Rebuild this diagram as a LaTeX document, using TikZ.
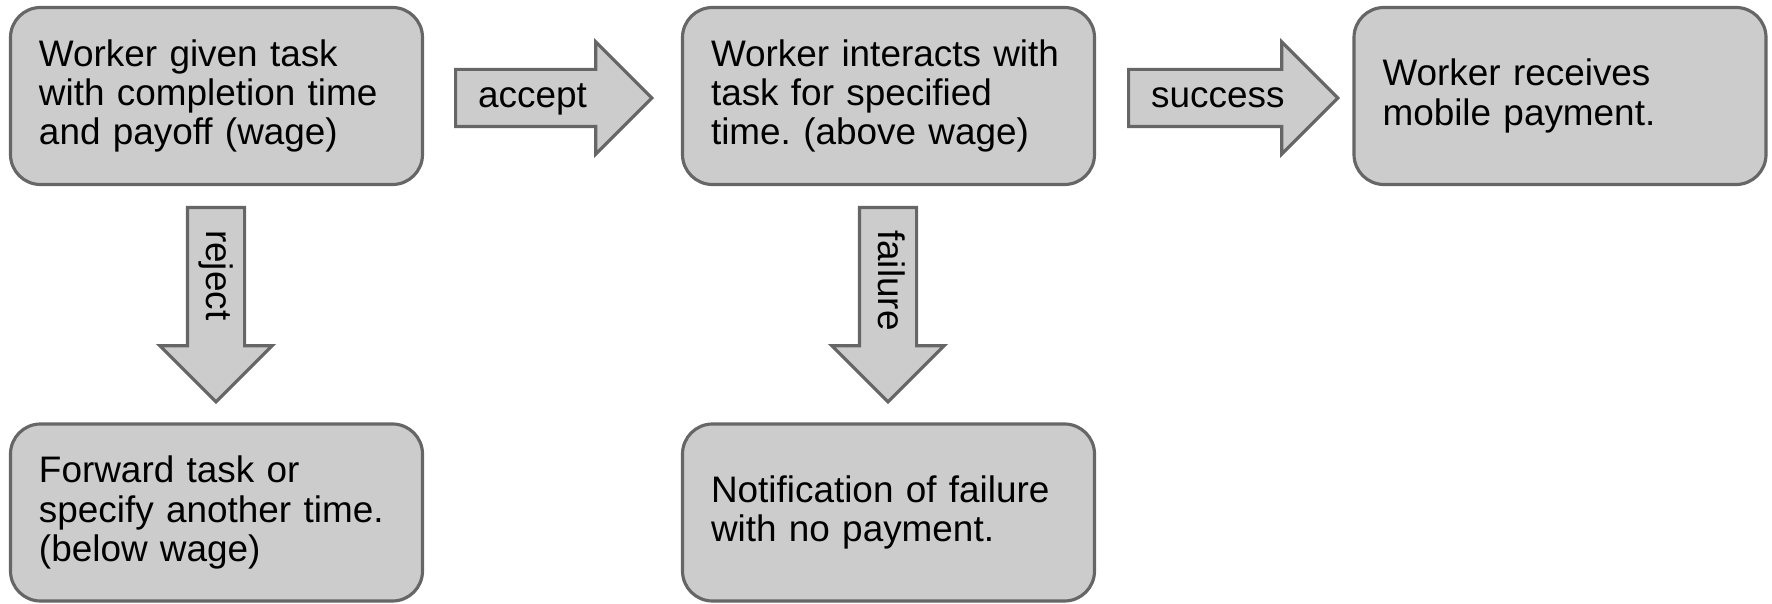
\documentclass[tikz,border=0pt]{standalone}
\usepackage{fontspec}
\setmainfont{Liberation Sans}
\frenchspacing
\usetikzlibrary{shapes.arrows,positioning}

\begin{document}
\begin{tikzpicture}[every node/.style={font=\fontsize{10.5}{11.2}\selectfont},
   bx/.style={rectangle,rounded corners=3mm,draw=black!60,fill=black!20,line width=0.9pt,
              minimum width=4.12cm,minimum height=1.77cm,text width=3.55cm,align=left,inner sep=0pt},
   ar/.style={single arrow,draw=black!60,fill=black!20,line width=0.9pt,
              single arrow head extend=2.75mm,single arrow head indent=0pt,
              text height=2.7mm,text depth=0.8mm,inner ysep=0.95mm,inner xsep=2.1mm,
              text width=#1,align=left,anchor=tail}]
  \useasboundingbox (0,0) rectangle (17.72,6.03);
  % boxes
  \node[bx] (given) at (2.165,5.07) {Worker given task\\with completion time\\and payoff (wage)};
  \node[bx] (work) at (8.885,5.07) {Worker interacts with\\task for specified\\time. (above wage)};
  \node[bx] (paid) at (15.60,5.07) {Worker receives\\mobile payment.};
  \node[bx] (fwd) at (2.165,0.905) {Forward task or\\specify another time.\\(below wage)};
  \node[bx] (nopay) at (8.885,0.905) {Notification of failure\\with no payment.};
  % block arrows
  \node[ar=1.225cm] (acc) at (4.54,5.05) {accept};
  \node[ar=1.355cm] (succ) at (11.27,5.05) {success};
  \node[ar=1.205cm,rotate=-90] (rej) at (2.16,3.97) {reject};
  \node[ar=1.205cm,rotate=-90] (fail) at (8.88,3.97) {failure};
\end{tikzpicture}
\end{document}
